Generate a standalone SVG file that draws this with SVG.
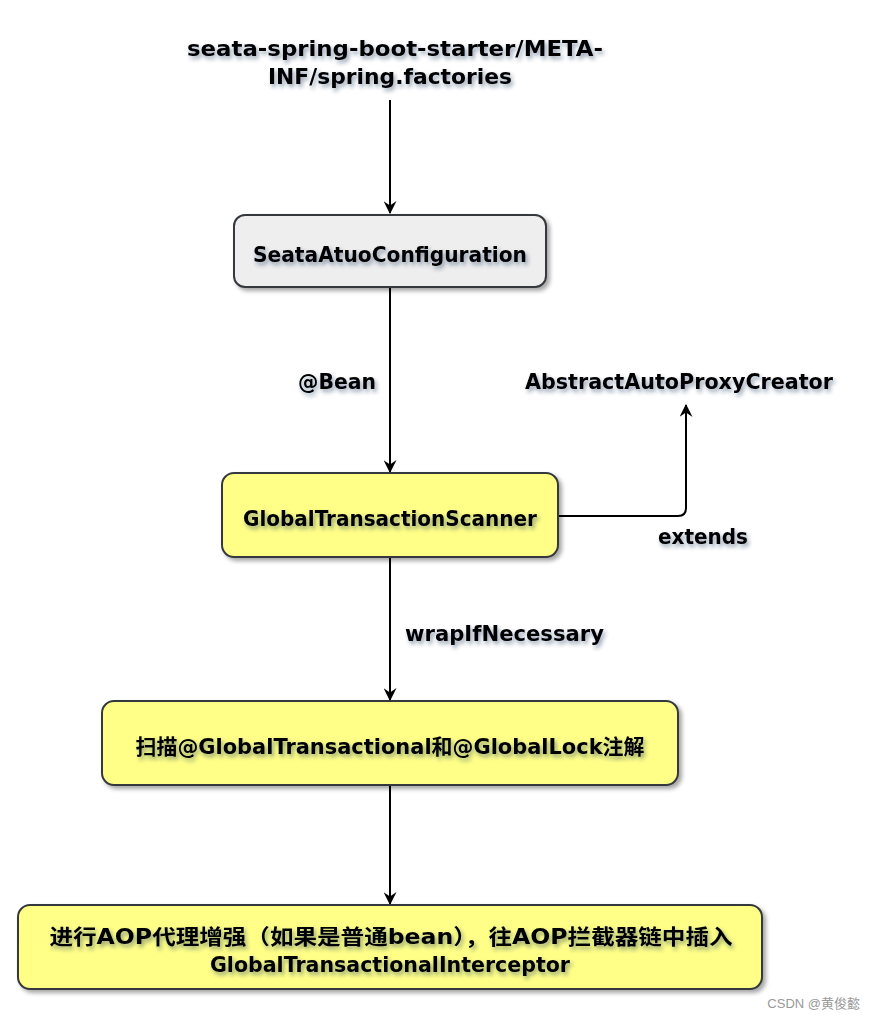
<svg xmlns="http://www.w3.org/2000/svg" width="874" height="1020" viewBox="0 0 874 1020">
<defs>
<filter id="ts" x="-10%" y="-50%" width="120%" height="200%">
<feDropShadow dx="2" dy="3" stdDeviation="2" flood-color="#1a2a55" flood-opacity="0.45"/>
</filter>
<filter id="bs" x="-10%" y="-20%" width="120%" height="150%">
<feDropShadow dx="3" dy="3" stdDeviation="2" flood-color="#000" flood-opacity="0.35"/>
</filter>
<marker id="ah" viewBox="0 0 12 12" refX="11" refY="6" markerWidth="13" markerHeight="13" markerUnits="userSpaceOnUse" orient="auto">
<path d="M0,0 L12,6 L0,12 L4,6 Z" fill="#000"/>
</marker>
<style>
.t{font-family:"DejaVu Sans","Noto Sans CJK SC",sans-serif;font-size:21px;font-weight:bold;fill:#000;filter:url(#ts)}
.c{text-anchor:middle}
.box{stroke:#36393d;stroke-width:2;filter:url(#bs)}
.y{fill:#ffff88}
.g{fill:#eeeeee}
.ln{fill:none;stroke:#000;stroke-width:2}
</style>
</defs>
<rect width="874" height="1020" fill="#fff"/>
<g id="title">
<text class="t c" x="395" y="56" textLength="416" lengthAdjust="spacingAndGlyphs">seata-spring-boot-starter/META-</text>
<text class="t c" x="390" y="84" textLength="244" lengthAdjust="spacingAndGlyphs">INF/spring.factories</text>
</g>
<g id="connectors">
<line class="ln" x1="390" y1="100" x2="390" y2="213" marker-end="url(#ah)"/>
<line class="ln" x1="390" y1="287" x2="390" y2="472" marker-end="url(#ah)"/>
<path class="ln" d="M558,516 H678 Q686,516 686,508 V405" marker-end="url(#ah)"/>
<line class="ln" x1="390" y1="557" x2="390" y2="700" marker-end="url(#ah)"/>
<line class="ln" x1="390" y1="785" x2="390" y2="904" marker-end="url(#ah)"/>
<text class="t" x="298" y="389" textLength="78" lengthAdjust="spacingAndGlyphs">@Bean</text>
<text class="t" x="658" y="544" textLength="90" lengthAdjust="spacingAndGlyphs">extends</text>
<text class="t" x="405" y="641" textLength="199" lengthAdjust="spacingAndGlyphs">wrapIfNecessary</text>
</g>
<g id="n1">
<rect class="box g" x="234" y="215" width="312" height="72" rx="11"/>
<text class="t c" x="390" y="262" textLength="274" lengthAdjust="spacingAndGlyphs">SeataAtuoConfiguration</text>
</g>
<g id="n-abstract">
<text class="t" x="525" y="389" textLength="308" lengthAdjust="spacingAndGlyphs">AbstractAutoProxyCreator</text>
</g>
<g id="n2">
<rect class="box y" x="222" y="473" width="336" height="84" rx="12"/>
<text class="t c" x="390" y="526" textLength="294" lengthAdjust="spacingAndGlyphs">GlobalTransactionScanner</text>
</g>
<g id="n3">
<rect class="box y" x="102" y="701" width="576" height="84" rx="12"/>
<text class="t c" x="390" y="754" textLength="509" lengthAdjust="spacingAndGlyphs">扫描@GlobalTransactional和@GlobalLock注解</text>
</g>
<g id="n4">
<rect class="box y" x="18" y="905" width="744" height="84" rx="12"/>
<text class="t c" x="391" y="944" textLength="683" lengthAdjust="spacingAndGlyphs">进行AOP代理增强（如果是普通bean），往AOP拦截器链中插入</text>
<text class="t c" x="390" y="972" textLength="360" lengthAdjust="spacingAndGlyphs">GlobalTransactionalInterceptor</text>
</g>
<text x="860" y="1008" text-anchor="end" style="font-family:'Liberation Sans','Noto Sans CJK SC',sans-serif;font-size:13px;fill:#999">CSDN @黄俊懿</text>
</svg>
